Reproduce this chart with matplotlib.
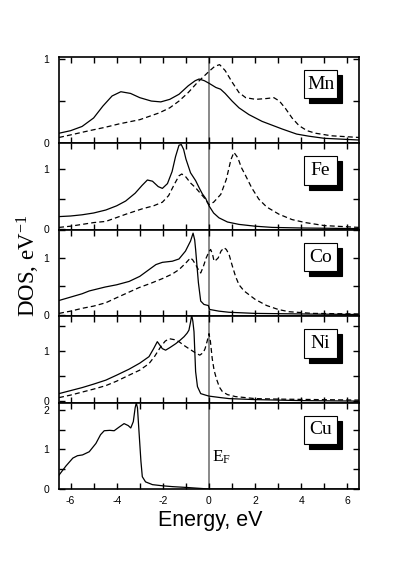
import matplotlib
matplotlib.use("Agg")
import matplotlib.pyplot as plt
from matplotlib.patches import Rectangle
from matplotlib.ticker import MultipleLocator

plt.rcParams['mathtext.fontset'] = 'custom'
plt.rcParams['mathtext.rm'] = 'Liberation Serif'
plt.rcParams['mathtext.default'] = 'regular'
plt.rcParams['axes.unicode_minus'] = False

elements = ["Mn", "Fe", "Co", "Ni", "Cu"]

# Mn
mn_s_x = [-6.5, -6.0, -5.5, -5.0, -4.6, -4.2, -3.82, -3.4, -3.0, -2.5, -2.09, -1.7, -1.3, -0.9,
          -0.6, -0.43, -0.2, 0.0, 0.3, 0.5, 0.7, 1.0, 1.3, 1.73, 2.3, 3.17, 3.8, 4.33, 5.0, 6.5]
mn_s_y = [0.12, 0.15, 0.20, 0.30, 0.44, 0.56, 0.61, 0.59, 0.54, 0.50, 0.49, 0.52, 0.58, 0.68,
          0.74, 0.76, 0.74, 0.71, 0.66, 0.64, 0.59, 0.50, 0.42, 0.34, 0.26, 0.17, 0.11, 0.085, 0.06, 0.04]
mn_d_x = [-6.5, -6.0, -5.19, -4.5, -3.9, -3.0, -2.16, -1.7, -1.3, -0.9, -0.5, 0.0, 0.25, 0.46,
          0.7, 1.01, 1.3, 1.59, 2.02, 2.5, 2.81, 3.05, 3.32, 3.6, 3.9, 4.25, 4.62, 5.3, 6.5]
mn_d_y = [0.07, 0.10, 0.15, 0.19, 0.23, 0.28, 0.36, 0.42, 0.50, 0.60, 0.72, 0.85, 0.91, 0.93,
          0.86, 0.72, 0.60, 0.54, 0.52, 0.53, 0.54, 0.50, 0.41, 0.30, 0.21, 0.15, 0.12, 0.09, 0.07]

# Fe
fe_s_x = [-6.5, -6.0, -5.5, -5.0, -4.47, -4.0, -3.61, -3.2, -2.9, -2.67, -2.45, -2.2, -2.02, -1.8,
          -1.6, -1.45, -1.3, -1.2, -1.1, -1.0, -0.8, -0.58, -0.4, -0.29, -0.14, 0.0, 0.2, 0.43,
          0.8, 1.3, 2.0, 2.74, 4.0, 6.5]
fe_s_y = [0.20, 0.21, 0.23, 0.26, 0.31, 0.38, 0.46, 0.59, 0.72, 0.81, 0.79, 0.70, 0.67, 0.75,
          0.95, 1.20, 1.39, 1.40, 1.32, 1.16, 0.93, 0.80, 0.66, 0.58, 0.50, 0.38, 0.26, 0.18,
          0.11, 0.07, 0.04, 0.02, 0.01, 0.0]
fe_d_x = [-6.5, -6.0, -5.5, -5.0, -4.47, -3.6, -2.89, -2.4, -2.02, -1.75, -1.5, -1.3, -1.18, -1.0,
          -0.8, -0.58, -0.4, -0.22, 0.0, 0.2, 0.51, 0.75, 0.95, 1.08, 1.25, 1.4, 1.59, 1.85, 2.16,
          2.5, 3.03, 3.6, 4.18, 5.0, 6.5]
fe_d_y = [0.02, 0.04, 0.07, 0.10, 0.12, 0.24, 0.33, 0.38, 0.44, 0.55, 0.74, 0.88, 0.91, 0.86,
          0.76, 0.68, 0.60, 0.52, 0.40, 0.44, 0.57, 0.82, 1.15, 1.27, 1.18, 1.02, 0.88, 0.68, 0.49,
          0.36, 0.24, 0.15, 0.10, 0.05, 0.02]

# Co
co_s_x = [-6.5, -6.0, -5.5, -5.19, -4.5, -4.0, -3.46, -3.0, -2.6, -2.3, -2.02, -1.59, -1.3, -1.02,
          -0.8, -0.69, -0.62, -0.58, -0.46, -0.36, -0.22, -0.03, 0.03, 0.43, 0.87, 2.0, 4.0, 6.5]
co_s_y = [0.25, 0.31, 0.37, 0.42, 0.49, 0.53, 0.59, 0.68, 0.80, 0.89, 0.93, 0.95, 0.99, 1.13,
          1.31, 1.45, 1.33, 1.16, 0.57, 0.24, 0.18, 0.16, 0.09, 0.06, 0.04, 0.02, 0.01, 0.0]
co_d_x = [-6.5, -6.0, -5.5, -5.0, -4.47, -4.0, -3.46, -3.03, -2.5, -2.02, -1.6, -1.3, -1.0, -0.8,
          -0.7, -0.58, -0.46, -0.36, -0.25, -0.12, 0.0, 0.07, 0.15, 0.22, 0.3, 0.4, 0.52, 0.65,
          0.75, 0.87, 1.0, 1.15, 1.3, 1.52, 2.0, 2.5, 3.0, 3.46, 4.5, 6.5]
co_d_y = [0.02, 0.06, 0.11, 0.15, 0.21, 0.30, 0.40, 0.48, 0.56, 0.64, 0.72, 0.80, 0.92, 1.01,
          0.97, 0.89, 0.80, 0.74, 0.85, 1.01, 1.12, 1.16, 1.08, 0.95, 0.97, 1.01, 1.13, 1.19,
          1.16, 1.07, 0.88, 0.68, 0.53, 0.42, 0.27, 0.16, 0.09, 0.05, 0.02, 0.01]

# Ni
ni_s_x = [-6.5, -6.0, -5.5, -5.0, -4.47, -4.0, -3.46, -3.0, -2.6, -2.4, -2.24, -2.1, -2.02, -1.88,
          -1.7, -1.44, -1.25, -1.08, -0.95, -0.87, -0.8, -0.75, -0.7, -0.65, -0.58, -0.5, -0.36,
          -0.15, 0.0, 0.5, 0.87, 2.0, 4.0, 6.5]
ni_s_y = [0.15, 0.21, 0.27, 0.34, 0.42, 0.52, 0.64, 0.76, 0.89, 1.05, 1.19, 1.10, 1.05, 1.02,
          1.07, 1.15, 1.22, 1.29, 1.36, 1.42, 1.58, 1.72, 1.60, 1.39, 0.59, 0.29, 0.15,
          0.12, 0.10, 0.07, 0.05, 0.03, 0.01, 0.0]
ni_d_x = [-6.5, -6.0, -5.5, -5.0, -4.47, -4.0, -3.46, -3.0, -2.6, -2.35, -2.09, -1.9, -1.73, -1.5,
          -1.3, -1.1, -0.87, -0.6, -0.4, -0.25, -0.17, -0.08, 0.0, 0.06, 0.14, 0.22, 0.32, 0.45,
          0.58, 0.8, 1.15, 2.0, 3.0, 6.5]
ni_d_y = [0.07, 0.12, 0.18, 0.24, 0.31, 0.40, 0.52, 0.62, 0.75, 0.90, 1.09, 1.20, 1.25, 1.23,
          1.19, 1.12, 1.05, 0.97, 0.92, 0.97, 1.05, 1.20, 1.35, 1.20, 0.85, 0.62, 0.45, 0.28,
          0.19, 0.13, 0.09, 0.05, 0.04, 0.02]

# Cu
cu_s_x = [-6.5, -6.2, -5.9, -5.7, -5.48, -5.19, -4.9, -4.7, -4.54, -4.3, -4.11, -3.9, -3.68, -3.5,
          -3.39, -3.28, -3.2, -3.15, -3.1, -3.03, -2.95, -2.89, -2.75, -2.45, -2.0, -1.59, -1.0,
          -0.5, 0.0, 6.5]
cu_s_y = [0.35, 0.58, 0.78, 0.84, 0.86, 0.94, 1.15, 1.37, 1.47, 1.48, 1.47, 1.56, 1.65, 1.60,
          1.54, 1.70, 2.05, 2.17, 2.05, 1.42, 0.70, 0.31, 0.18, 0.11, 0.08, 0.06, 0.04,
          0.02, 0.0, 0.0]

solid = [(mn_s_x, mn_s_y), (fe_s_x, fe_s_y), (co_s_x, co_s_y), (ni_s_x, ni_s_y), (cu_s_x, cu_s_y)]
dashed = [(mn_d_x, mn_d_y), (fe_d_x, fe_d_y), (co_d_x, co_d_y), (ni_d_x, ni_d_y), None]

ylims = [(0, 1.02), (-0.02, 1.42), (-0.03, 1.51), (-0.03, 1.70), (0, 2.18)]
yticks = [[0, 1], [0, 1], [0, 1], [0, 1], [0, 1, 2]]
xticks = [-6, -4, -2, 0, 2, 4, 6]

fig = plt.figure(figsize=(3.99, 5.75), dpi=100)
left, right = 59 / 399, 359 / 399
top, bottom = 1 - 57 / 575, 1 - 489 / 575
h = (top - bottom) / 5

for i, el in enumerate(elements):
    ax = fig.add_axes([left, top - (i + 1) * h, right - left, h])
    ax.axvline(0, color='#808080', lw=1.3, zorder=1)
    sx, sy = solid[i]
    ax.plot(sx, sy, color='black', lw=0.9, zorder=3)
    if dashed[i] is not None:
        dx, dy = dashed[i]
        ax.plot(dx, dy, color='black', lw=0.9, ls=(0, (4, 2.5)), zorder=3)
    ax.set_xlim(-6.5, 6.5)
    ax.set_ylim(*ylims[i])
    ax.set_yticks(yticks[i])
    ax.yaxis.set_minor_locator(MultipleLocator(0.5))
    ax.set_xticks(xticks)
    ax.xaxis.set_minor_locator(MultipleLocator(1))
    ax.tick_params(which='both', direction='in', top=True, right=True, length=4, width=1.0,
                   labelsize=7.5)
    ax.tick_params(axis='y', pad=7)
    ax.tick_params(axis='x', pad=5)
    for sp in ax.spines.values():
        sp.set_linewidth(1.2)
    if i < 4:
        ax.tick_params(axis='x', labelbottom=False)
    for lab in ax.get_xticklabels() + ax.get_yticklabels():
        lab.set_family('Liberation Sans')
    # label box with shadow
    bx, by, bw, bh = 0.817, 0.52, 0.11, 0.33
    ax.add_patch(Rectangle((bx + 0.017, by - 0.058), bw, bh, transform=ax.transAxes,
                           facecolor='black', edgecolor='black', lw=0.8, zorder=5))
    ax.add_patch(Rectangle((bx, by), bw, bh, transform=ax.transAxes,
                           facecolor='white', edgecolor='black', lw=0.8, zorder=6))
    ax.text(bx + bw / 2, by + bh / 2, el, transform=ax.transAxes, ha='center', va='center',
            fontsize=14, family='Liberation Serif', zorder=7)
    if el == "Cu":
        ax.text(0.15, 0.68, r'E$_{F}$', fontsize=12.5, family='Liberation Serif',
                va='baseline', ha='left')

fig.text(0.07, 0.537, r'DOS, eV$^{-1}$', rotation=90, ha='center', va='center',
         fontsize=16.5, family='Liberation Serif')
fig.text(0.526, 0.094, 'Energy, eV', ha='center', va='center', fontsize=15.5,
         family='Liberation Sans')

fig.savefig('out.png', dpi=100)
